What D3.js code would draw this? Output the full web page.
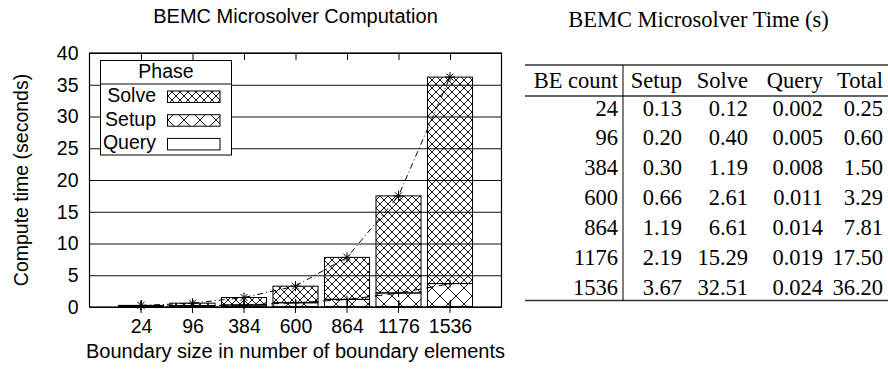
<!DOCTYPE html>
<html>
<head>
<meta charset="utf-8">
<script src="https://cdn.jsdelivr.net/npm/d3@7"></script>
<style>
body { margin: 0; background: #fff; }
svg { display: block; }
</style>
</head>
<body>
<svg id="chart" width="888" height="377"></svg>
<script>
const beCount = [24, 96, 384, 600, 864, 1176, 1536];
const setupTime = [0.13, 0.20, 0.30, 0.66, 1.19, 2.19, 3.67];
const solveTime = [0.12, 0.40, 1.19, 2.61, 6.61, 15.29, 32.51];
const queryTime = [0.002, 0.005, 0.008, 0.011, 0.014, 0.019, 0.024];
const totalTime = [0.25, 0.60, 1.50, 3.29, 7.81, 17.50, 36.20];
const phases = ["Query", "Setup", "Solve"];      // stacked bottom -> top
const legendOrder = ["Solve", "Setup", "Query"];
const yTicks = [0, 5, 10, 15, 20, 25, 30, 35, 40];
const tableHead = ["BE count", "Setup", "Solve", "Query", "Total"];

const SANS = "'Liberation Sans', Arial, Helvetica, sans-serif";
const SERIF = "'Liberation Serif', 'Times New Roman', serif";

const svg = d3.select("#chart");

// plot area
const plot = { left: 89.5, right: 501.5, top: 53, bottom: 307 };

const x = d3.scaleLinear()
    .domain([0, beCount.length + 1])
    .range([plot.left, plot.right]);
const y = d3.scaleLinear()
    .domain([0, 40])
    .range([plot.bottom, plot.top]);
const barW = (x(1) - x(0)) * 0.875;

// hatch patterns
const defs = svg.append("defs");
function hatch(id, s) {
    const p = defs.append("pattern")
        .attr("id", id)
        .attr("patternUnits", "userSpaceOnUse")
        .attr("width", s)
        .attr("height", s);
    p.append("path")
        .attr("d", `M0,0L${s},${s}M${s},0L0,${s}M-2,${s - 2}L2,${s + 2}M${s - 2},-2L${s + 2},2M-2,2L2,-2M${s - 2},${s + 2}L${s + 2},${s - 2}`)
        .attr("stroke", "#000")
        .attr("stroke-width", 0.9)
        .attr("fill", "none");
}
hatch("pat-solve", 8);
hatch("pat-setup", 16);
const fills = { Solve: "url(#pat-solve)", Setup: "url(#pat-setup)", Query: "none" };

// title
svg.append("text")
    .attr("x", (plot.left + plot.right) / 2)
    .attr("y", 23)
    .attr("text-anchor", "middle")
    .style("font-family", SANS)
    .style("font-size", "20px")
    .text("BEMC Microsolver Computation");

// grid + y axis
const yAxis = svg.append("g")
    .attr("transform", `translate(${plot.left},0)`)
    .call(d3.axisLeft(y).tickValues(yTicks).tickSize(-(plot.right - plot.left)).tickPadding(11));
yAxis.select(".domain").remove();
yAxis.selectAll("line").attr("stroke", "#111").attr("stroke-width", 1);
yAxis.selectAll("text")
    .style("font-family", SANS)
    .style("font-size", "19.5px")
    .attr("fill", "#000");

// bars
const rows = beCount.map((b, i) => ({ Query: queryTime[i], Setup: setupTime[i], Solve: solveTime[i] }));
const stacked = d3.stack().keys(phases)(rows);

stacked.forEach(layer => {
    svg.append("g")
        .selectAll("rect")
        .data(layer)
        .enter()
        .append("rect")
        .attr("x", (d, i) => x(i + 1) - barW / 2)
        .attr("width", barW)
        .attr("y", d => y(d[1]))
        .attr("height", d => y(d[0]) - y(d[1]))
        .attr("fill", fills[layer.key])
        .attr("stroke", "#000")
        .attr("stroke-width", 1);
});

// frame and x axes
svg.append("rect")
    .attr("x", plot.left)
    .attr("y", plot.top)
    .attr("width", plot.right - plot.left)
    .attr("height", plot.bottom - plot.top)
    .attr("fill", "none")
    .attr("stroke", "#000")
    .attr("stroke-width", 1.2);

const catIdx = d3.range(1, beCount.length + 1);
const xAxis = svg.append("g")
    .attr("transform", `translate(0,${plot.bottom})`)
    .call(d3.axisBottom(x).tickValues(catIdx).tickFormat(i => beCount[i - 1]).tickSize(-7).tickPadding(12));
xAxis.select(".domain").remove();
xAxis.selectAll("line").attr("stroke", "#000");
xAxis.selectAll("text")
    .style("font-family", SANS)
    .style("font-size", "19.5px")
    .attr("fill", "#000");

const xTop = svg.append("g")
    .attr("transform", `translate(0,${plot.top})`)
    .call(d3.axisTop(x).tickValues(catIdx).tickSize(-7).tickFormat(""));
xTop.select(".domain").remove();
xTop.selectAll("line").attr("stroke", "#000");

// axis titles
svg.append("text")
    .attr("x", (plot.left + plot.right) / 2)
    .attr("y", 358)
    .attr("text-anchor", "middle")
    .style("font-family", SANS)
    .style("font-size", "20px")
    .text("Boundary size in number of boundary elements");

svg.append("text")
    .attr("transform", `translate(28,${(plot.top + plot.bottom) / 2}) rotate(-90)`)
    .attr("text-anchor", "middle")
    .style("font-family", SANS)
    .style("font-size", "19.5px")
    .text("Compute time (seconds)");

// trend lines
const line = d3.line().x((d, i) => x(i + 1)).y(d => y(d));

svg.append("path")
    .datum(queryTime)
    .attr("d", line)
    .attr("fill", "none")
    .attr("stroke", "#000")
    .attr("stroke-dasharray", "2,3");

svg.append("path")
    .datum(setupTime)
    .attr("d", line)
    .attr("fill", "none")
    .attr("stroke", "#000")
    .attr("stroke-dasharray", "8,5");

svg.append("path")
    .datum(totalTime)
    .attr("d", line)
    .attr("fill", "none")
    .attr("stroke", "#000")
    .attr("stroke-dasharray", "6,3,1,3");

const plus = "M-5,0H5M0,-6V6";
const star = "M-5,0H5M0,-5V5M-3.5,-3.5L3.5,3.5M-3.5,3.5L3.5,-3.5";
function markers(vals, shape) {
    svg.append("g")
        .selectAll("path")
        .data(vals)
        .enter()
        .append("path")
        .attr("transform", (d, i) => `translate(${x(i + 1)},${y(d)})`)
        .attr("d", shape)
        .attr("stroke", "#000")
        .attr("stroke-width", 1)
        .attr("fill", "none");
}
markers(queryTime, plus);
markers(setupTime, "M-4,0H4M0,-4V4");
markers(totalTime, star);

// legend
const lg = svg.append("g");
lg.append("rect")
    .attr("x", 100.5).attr("y", 60.5)
    .attr("width", 131).attr("height", 94.5)
    .attr("fill", "#fff")
    .attr("stroke", "#000");
lg.append("line")
    .attr("x1", 100.5).attr("x2", 231.5)
    .attr("y1", 84).attr("y2", 84)
    .attr("stroke", "#000");
lg.append("text")
    .attr("x", 166).attr("y", 78)
    .attr("text-anchor", "middle")
    .style("font-family", SANS)
    .style("font-size", "19.5px")
    .text("Phase");
legendOrder.forEach((k, i) => {
    const cy = 96.5 + i * 23.7;
    lg.append("text")
        .attr("x", 156).attr("y", cy + 5.5)
        .attr("text-anchor", "end")
        .style("font-family", SANS)
        .style("font-size", "19.5px")
        .text(k);
    lg.append("rect")
        .attr("x", 167.5).attr("y", cy - 5.5)
        .attr("width", 52.5).attr("height", 11.5)
        .attr("fill", k === "Query" ? "#fff" : fills[k])
        .attr("stroke", "#000");
});

// table
const tb = svg.append("g").style("font-family", SERIF).style("font-size", "22.5px");
tb.append("text")
    .attr("x", 698.5).attr("y", 27)
    .attr("text-anchor", "middle")
    .text("BEMC Microsolver Time (s)");

const colRight = [618, 682, 748, 823, 883];
const rowY = d3.scaleLinear().domain([0, beCount.length - 1]).range([115.5, 294.5]);
const cells = beCount.map((b, i) => [
    String(b),
    setupTime[i].toFixed(2),
    solveTime[i].toFixed(2),
    queryTime[i].toFixed(3),
    totalTime[i].toFixed(2)
]);

tb.selectAll(".head")
    .data(tableHead)
    .enter()
    .append("text")
    .attr("class", "head")
    .attr("x", (d, j) => colRight[j])
    .attr("y", 87.5)
    .attr("text-anchor", "end")
    .text(d => d);

cells.forEach((row, i) => {
    tb.append("g")
        .selectAll("text")
        .data(row)
        .enter()
        .append("text")
        .attr("x", (d, j) => colRight[j])
        .attr("y", rowY(i))
        .attr("text-anchor", "end")
        .text(d => d);
});

const rule = (yy) => svg.append("line")
    .attr("x1", 525).attr("x2", 888)
    .attr("y1", yy).attr("y2", yy)
    .attr("stroke", "#333").attr("stroke-width", 1.3);
rule(65);
rule(96);
rule(300.5);
svg.append("line")
    .attr("x1", 623).attr("x2", 623)
    .attr("y1", 65).attr("y2", 300.5)
    .attr("stroke", "#000").attr("stroke-width", 1);
</script>
</body>
</html>
